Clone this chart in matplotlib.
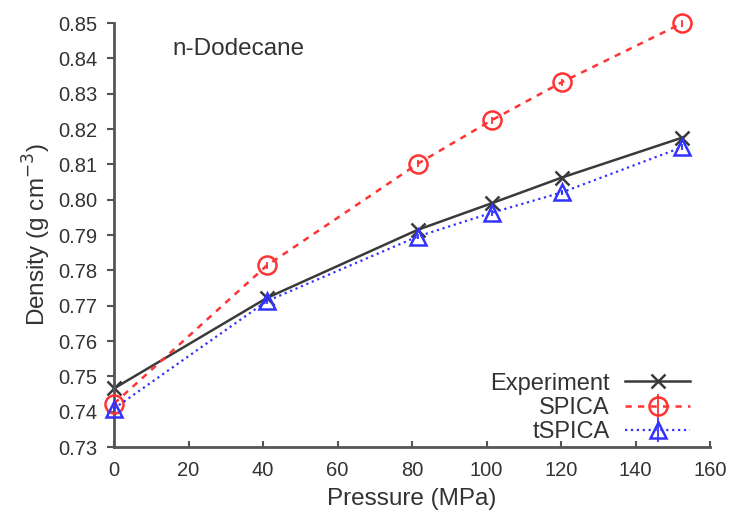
import matplotlib
matplotlib.use("Agg")
import matplotlib.pyplot as plt

plt.rcParams['font.family'] = ['Liberation Sans', 'DejaVu Sans']

pressure = [0, 41, 81.5, 101.3, 120.2, 152.5]
experiment = [0.7466, 0.7722, 0.7915, 0.7990, 0.8063, 0.8176]
spica = [0.7423, 0.7814, 0.8102, 0.8225, 0.8333, 0.8500]
tspica = [0.7409, 0.7713, 0.7896, 0.7963, 0.8021, 0.8149]
spica_err = [0.001, 0.001, 0.001, 0.001, 0.001, 0.001]
tspica_err = [0.0008, 0.0008, 0.0008, 0.0008, 0.0008, 0.0008]

txtc = '#333333'

fig = plt.figure(figsize=(7.36, 5.15), dpi=100)
ax = fig.add_axes([0.155, 0.132, 0.81, 0.823])

ax.plot(pressure, experiment, '-', color='#3a3a3a', lw=1.8, marker='x',
        ms=10, mew=1.8, label='Experiment', zorder=2, clip_on=False)
ax.errorbar(pressure, spica, yerr=spica_err, fmt='--', color='#ff3333', lw=1.8,
            marker='o', ms=13, mfc='none', mew=1.8, capsize=0, elinewidth=1.3,
            dashes=(2.5, 2.5), label='SPICA', zorder=3, clip_on=False)
ax.errorbar(pressure, tspica, yerr=tspica_err, fmt=':', color='#3333ff', lw=1.6,
            marker='^', ms=11, mfc='none', mew=1.8, capsize=0, elinewidth=1.3,
            label='tSPICA', zorder=3, clip_on=False)

ax.set_xlim(0, 160)
ax.set_ylim(0.73, 0.85)
ax.set_xticks(range(0, 161, 20))
ax.set_yticks([0.73 + 0.01 * i for i in range(13)])
ax.set_yticklabels(['%.2f' % (0.73 + 0.01 * i) for i in range(13)])

for s in ['top', 'right']:
    ax.spines[s].set_visible(False)
for s in ['left', 'bottom']:
    ax.spines[s].set_color('#555555')
    ax.spines[s].set_linewidth(2)

ax.tick_params(axis='y', direction='out', length=5, width=1.5, colors='#555555',
               labelsize=14.5, labelcolor=txtc, pad=7)
ax.tick_params(axis='x', direction='in', length=4, width=1.5, colors='#555555',
               labelsize=14.5, labelcolor=txtc, pad=10)

ax.set_xlabel('Pressure (MPa)', fontsize=17.5, color=txtc, labelpad=6)
ax.set_ylabel('Density (g cm$^{-3}$)', fontsize=17.5, color=txtc, labelpad=4)

ax.text(0.098, 0.94, 'n-Dodecane', transform=ax.transAxes, fontsize=17.5,
        color=txtc, ha='left', va='center')

leg = ax.legend(loc='lower right', bbox_to_anchor=(0.99, -0.025), frameon=False,
                markerfirst=False, fontsize=17, handlelength=2.75,
                labelspacing=0.1, handletextpad=0.65, borderaxespad=0.2)
for t in leg.get_texts():
    t.set_color(txtc)
    t.set_ha('right')

fig.savefig('out.png', dpi=100)
